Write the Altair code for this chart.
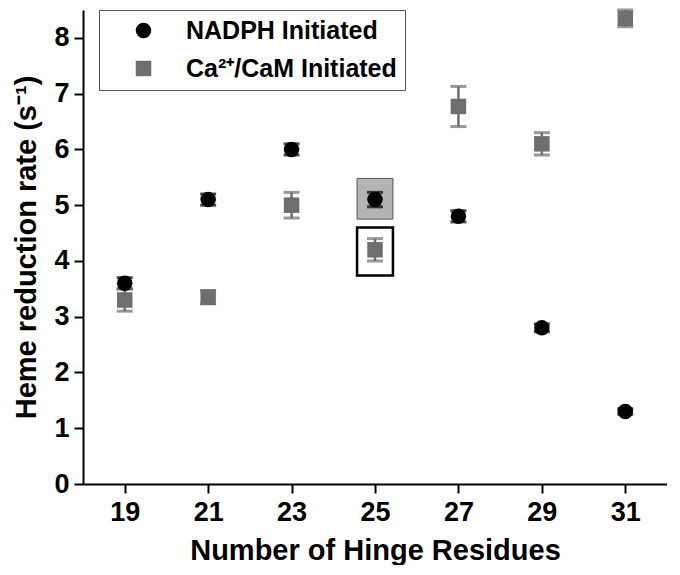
import altair as alt
import pandas as pd

residues = [19, 21, 23, 25, 27, 29, 31]
nadph_rate = [3.6, 5.1, 6.0, 5.1, 4.8, 2.8, 1.3]
nadph_err = [0.1, 0.1, 0.1, 0.13, 0.1, 0.07, 0.05]
cam_rate = [3.3, 3.35, 5.0, 4.2, 6.77, 6.1, 8.35]
cam_err = [0.2, 0.12, 0.23, 0.2, 0.36, 0.2, 0.15]
series_names = ["NADPH Initiated", "Ca\u00b2\u207a/CaM Initiated"]
x_ticks = [19, 21, 23, 25, 27, 29, 31]
y_ticks = [0, 0.5, 1, 1.5, 2, 2.5, 3, 3.5, 4, 4.5, 5, 5.5, 6, 6.5, 7, 7.5, 8]

rows = []
for x, v, e in zip(residues, nadph_rate, nadph_err):
    rows.append({"x": x, "v": v, "lo": v - e, "hi": v + e, "s": series_names[0]})
for x, v, e in zip(residues, cam_rate, cam_err):
    rows.append({"x": x, "v": v, "lo": v - e, "hi": v + e, "s": series_names[1]})
df = pd.DataFrame(rows)

# highlight boxes around the residue-25 points
hl_x = 25
hl_half_w = 0.43
boxes = pd.DataFrame([
    {"x1": hl_x - hl_half_w, "x2": hl_x + hl_half_w, "y1": 4.75, "y2": 5.48, "kind": "fill"},
    {"x1": hl_x - hl_half_w, "x2": hl_x + hl_half_w, "y1": 3.74, "y2": 4.6, "kind": "outline"},
])

FONT = "Liberation Sans"
xs = alt.Scale(domain=[18, 32], nice=False, zero=False)
ys = alt.Scale(domain=[0, 8.5], nice=False)
colors = alt.Scale(domain=series_names, range=["#000000", "#6e6e6e"])
shapes = alt.Scale(domain=series_names, range=["circle", "square"])

x_axis = alt.Axis(values=x_ticks, title="Number of Hinge Residues", grid=False,
                  tickSize=9, tickWidth=2, domainWidth=2, domainColor="black", tickColor="black",
                  labelFontSize=27, labelFont=FONT, labelFontWeight="bold", labelColor="black",
                  labelPadding=6, titleFontSize=29, titleFont=FONT, titleFontWeight="bold",
                  titleColor="black", titlePadding=11)
y_axis = alt.Axis(values=y_ticks, title="Heme reduction rate (s\u207b\u00b9)", grid=False,
                  tickSize={"condition": {"test": "datum.value % 1 !== 0", "value": 5}, "value": 9},
                  labelExpr="datum.value % 1 === 0 ? format(datum.value, 'd') : ''",
                  tickWidth=2, domainWidth=2, domainColor="black", tickColor="black",
                  labelFontSize=27, labelFont=FONT, labelFontWeight="bold", labelColor="black",
                  labelPadding=5, titleFontSize=29, titleFont=FONT, titleFontWeight="bold",
                  titleColor="black", titlePadding=12)

legend = alt.Legend(
    title=None, orient="none", legendX=16, legendY=0,
    labelFontSize=25, labelFont=FONT, labelFontWeight="bold", labelColor="black",
    symbolSize=240, symbolStrokeWidth=0, symbolOpacity=1, strokeColor="#555555", padding=8,
    rowPadding=12, labelOffset=30, symbolOffset=24, labelLimit=400,
    fillColor="white")

box_base = alt.Chart(boxes).encode(
    x=alt.X("x1:Q", scale=xs, axis=x_axis), x2="x2:Q",
    y=alt.Y("y1:Q", scale=ys, axis=y_axis), y2="y2:Q")
box_fill = box_base.transform_filter("datum.kind === 'fill'").mark_rect(
    fill="#b4b4b4", stroke="#555555", strokeWidth=1)
box_out = box_base.transform_filter("datum.kind === 'outline'").mark_rect(
    fill="white", stroke="black", strokeWidth=2.5)

base = alt.Chart(df).encode(
    x=alt.X("x:Q", scale=xs, axis=x_axis),
    color=alt.Color("s:N", scale=colors, legend=legend),
)
rule = base.mark_rule(strokeWidth=2.5).encode(y=alt.Y("lo:Q", scale=ys, axis=y_axis), y2="hi:Q")
cap_lo = base.mark_tick(orient="horizontal", size=16, thickness=3).encode(y=alt.Y("lo:Q", scale=ys))
cap_hi = base.mark_tick(orient="horizontal", size=16, thickness=3).encode(y=alt.Y("hi:Q", scale=ys))
pts = base.mark_point(filled=True, size=240, opacity=1).encode(
    y=alt.Y("v:Q", scale=ys, axis=y_axis),
    shape=alt.Shape("s:N", scale=shapes, legend=legend),
)

chart = alt.layer(box_fill, box_out, rule, cap_lo, cap_hi, pts).properties(
    width=584, height=474, padding={"left": 4, "top": 0, "right": 0, "bottom": 0}
).configure_view(stroke=None)

chart.save("out.html", embed_options={"renderer": "svg", "actions": False})
